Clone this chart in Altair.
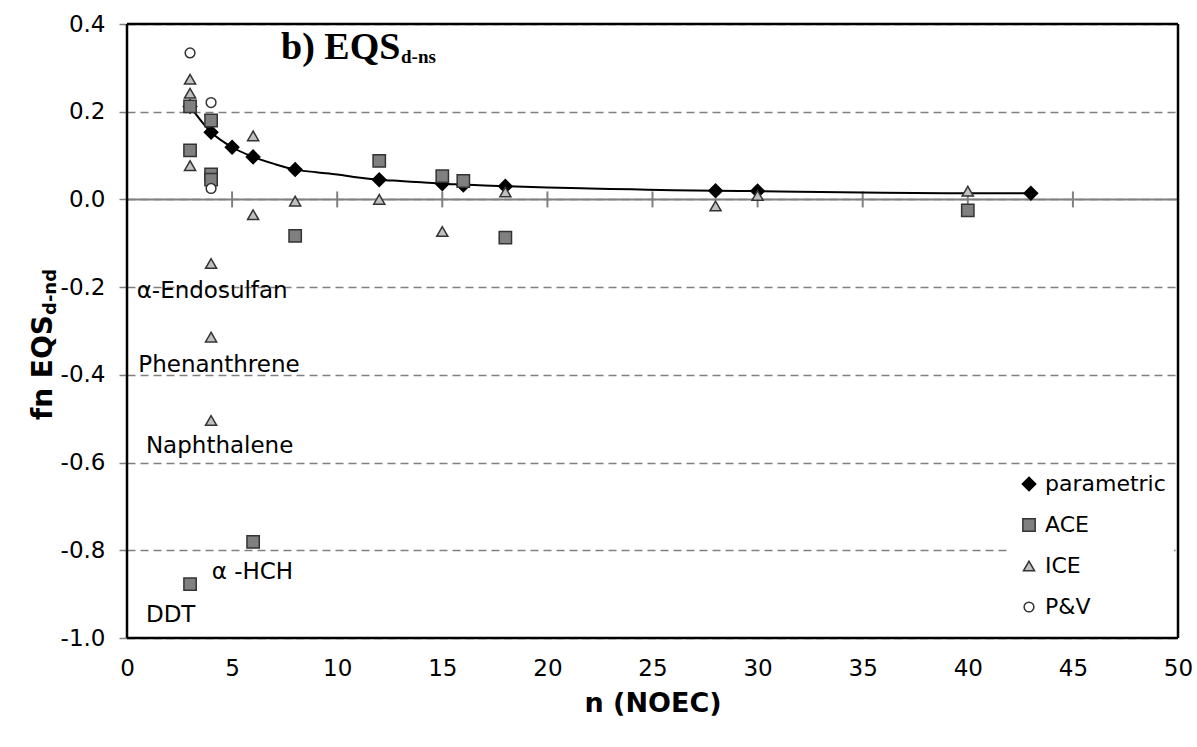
import altair as alt
import pandas as pd

# Fitted (parametric) factor curve, read at selected sample sizes
curve_n = [3, 4, 5, 6, 7, 8, 9, 10, 11, 12, 13, 14, 15, 16, 17, 18, 20, 22, 24, 26, 28, 30, 33, 36, 40, 43]
curve_fn = [0.212, 0.153, 0.119, 0.097, 0.081, 0.068, 0.062, 0.057, 0.050, 0.045, 0.042, 0.039,
            0.036, 0.034, 0.032, 0.030, 0.027, 0.025, 0.023, 0.021, 0.020, 0.019, 0.017, 0.015,
            0.014, 0.014]

# Parametric estimates at the sample sizes of the substances
param_n = [3, 4, 5, 6, 8, 12, 15, 16, 18, 28, 30, 43]
param_fn = [0.212, 0.153, 0.119, 0.097, 0.068, 0.045, 0.036, 0.033, 0.030, 0.020, 0.019, 0.014]

# ACE estimates
ace_n = [3, 3, 3, 4, 4, 4, 6, 8, 12, 15, 16, 18, 40]
ace_fn = [0.212, 0.112, -0.877, 0.180, 0.057, 0.045, -0.781, -0.083, 0.088, 0.053, 0.042, -0.087, -0.025]

# ICE estimates
ice_n = [3, 3, 3, 4, 4, 4, 6, 6, 8, 12, 15, 18, 28, 30, 40]
ice_fn = [0.274, 0.242, 0.077, -0.146, -0.314, -0.504, 0.145, -0.035, -0.004, 0.0, -0.073,
          0.017, -0.015, 0.009, 0.019]

# P&V estimates
pv_n = [3, 4, 4]
pv_fn = [0.334, 0.221, 0.025]

# Substance annotations (text anchored at lower-left, in data units)
label_text = ["α-Endosulfan", "Phenanthrene", "Naphthalene", "α -HCH", "DDT"]
label_n = [0.46, 0.54, 0.90, 4.03, 0.90]
label_fn = [-0.225, -0.393, -0.579, -0.866, -0.963]

x_ticks = [5, 10, 15, 20, 25, 30, 35, 40, 45]
x_range = [0, 50]
y_range = [-1.0, 0.4]
series_names = ["parametric", "ACE", "ICE", "P&V"]

SANS = "DejaVu Sans"

curve_df = pd.DataFrame({"n": curve_n, "fn": curve_fn})
frames = []
for k, (name, xs, ys) in enumerate(zip(series_names, [param_n, ace_n, ice_n, pv_n],
                                       [param_fn, ace_fn, ice_fn, pv_fn])):
    frames.append(pd.DataFrame({"n": xs, "fn": ys, "series": name, "draw": k}))
points_df = pd.concat(frames, ignore_index=True)
labels_df = pd.DataFrame({"text": label_text, "n": label_n, "fn": label_fn})
ticks_df = pd.DataFrame({"n": x_ticks, "fn": [0] * len(x_ticks)})
zero_df = pd.DataFrame({"fn": [0]})
hframe_df = pd.DataFrame({"fn": y_range})
vframe_df = pd.DataFrame({"n": x_range})

x_scale = alt.Scale(domain=x_range, nice=False, zero=False)
y_scale = alt.Scale(domain=y_range, nice=False, zero=False)

x_axis = alt.Axis(values=list(range(0, 51, 5)), title="n (NOEC)", grid=False, domain=False,
                  ticks=False, tickSize=0, labelFlush=False, labelFont=SANS, labelFontSize=23,
                  labelColor="black", labelPadding=19, titleFont=SANS, titleFontSize=27,
                  titleFontWeight="bold", titleColor="black", titlePadding=10)
y_axis = alt.Axis(values=[-1.0, -0.8, -0.6, -0.4, -0.2, 0.0, 0.2, 0.4], title=None,
                  domain=False, ticks=True, tickSize=8, tickColor="#808080", tickWidth=1.5,
                  labelFlush=False, labelFont=SANS, labelFontSize=23, labelColor="black",
                  labelPadding=14,
                  labelExpr="(datum.value < 0 ? '-' : '') + format(abs(datum.value), '.1f')",
                  grid=True, gridColor="#808080", gridDash=[8, 5], gridWidth=1.5)

base_x = alt.X("n:Q", scale=x_scale, axis=x_axis)
base_y = alt.Y("fn:Q", scale=y_scale, axis=y_axis)

zero_line = alt.Chart(zero_df).mark_rule(color="#808080", strokeWidth=2).encode(
    y=alt.Y("fn:Q", scale=y_scale, axis=y_axis))

zero_ticks = alt.Chart(ticks_df).mark_tick(orient="vertical", size=16, thickness=2,
                                            color="#808080", opacity=1).encode(
    x=base_x, y=alt.Y("fn:Q", scale=y_scale))

# Black frame around the plotting area
hframe = alt.Chart(hframe_df).mark_rule(color="black", strokeWidth=2.5).encode(
    y=alt.Y("fn:Q", scale=y_scale))
vframe = alt.Chart(vframe_df).mark_rule(color="black", strokeWidth=2.5).encode(
    x=alt.X("n:Q", scale=x_scale))

curve = alt.Chart(curve_df).mark_line(color="black", strokeWidth=2,
                                      interpolate="monotone").encode(x=base_x, y=base_y)

legend = alt.Legend(title=None, orient="none", legendX=883, legendY=441, fillColor="white",
                    padding=8, rowPadding=19, labelFont=SANS, labelFontSize=22,
                    labelColor="black", labelOffset=5, symbolStrokeWidth=1.5,
                    symbolOpacity=1)

points = alt.Chart(points_df).mark_point(opacity=1, strokeWidth=1.5).encode(
    x=alt.X("n:Q", scale=x_scale),
    y=alt.Y("fn:Q", scale=y_scale),
    shape=alt.Shape("series:N", scale=alt.Scale(domain=series_names,
                    range=["diamond", "square", "triangle-up", "circle"]), legend=legend),
    fill=alt.Fill("series:N", scale=alt.Scale(domain=series_names,
                  range=["#000000", "#808080", "#c0c0c0", "#ffffff"]), legend=legend),
    stroke=alt.Stroke("series:N", scale=alt.Scale(domain=series_names,
                      range=["#000000", "#333333", "#333333", "#333333"]), legend=legend),
    size=alt.Size("series:N", scale=alt.Scale(domain=series_names,
                  range=[180, 95, 175, 110]), legend=legend),
    order=alt.Order("draw:Q"),
)

labels = alt.Chart(labels_df).mark_text(font=SANS, fontSize=23, align="left",
                                        baseline="alphabetic", color="black").encode(
    x=alt.X("n:Q", scale=x_scale), y=alt.Y("fn:Q", scale=y_scale), text="text:N")

# Panel title "b) EQS" with subscript "d-ns"
title_main = alt.Chart(zero_df).mark_text(text="b) EQS", font="Liberation Serif", fontSize=38,
                                          fontWeight="bold", align="left",
                                          baseline="alphabetic", color="black").encode(
    x=alt.value(154), y=alt.value(35))
title_sub = alt.Chart(zero_df).mark_text(text="d-ns", font="Liberation Serif", fontSize=19,
                                         fontWeight="bold", align="left",
                                         baseline="alphabetic", color="black").encode(
    x=alt.value(274), y=alt.value(39))

# Vertical axis title "fn EQS" with subscript "d-nd"
ytitle_main = alt.Chart(zero_df).mark_text(text="fn EQS", font=SANS, fontSize=28,
                                           fontWeight="bold", align="left", angle=270,
                                           baseline="alphabetic", color="black").encode(
    x=alt.value(-75), y=alt.value(396))
ytitle_sub = alt.Chart(zero_df).mark_text(text="d-nd", font=SANS, fontSize=18,
                                          fontWeight="bold", align="left", angle=270,
                                          baseline="alphabetic", color="black").encode(
    x=alt.value(-71), y=alt.value(291))

chart = alt.layer(
    zero_line, zero_ticks, hframe, vframe, curve, points, labels,
    title_main, title_sub, ytitle_main, ytitle_sub,
).properties(
    width=1051, height=614,
    autosize=alt.AutoSizeParams(type="none"),
    padding={"left": 127, "top": 24, "right": 19, "bottom": 109},
    background="white",
).configure_view(strokeWidth=0)

chart.save("out.html", embed_options={"renderer": "svg", "actions": False})
